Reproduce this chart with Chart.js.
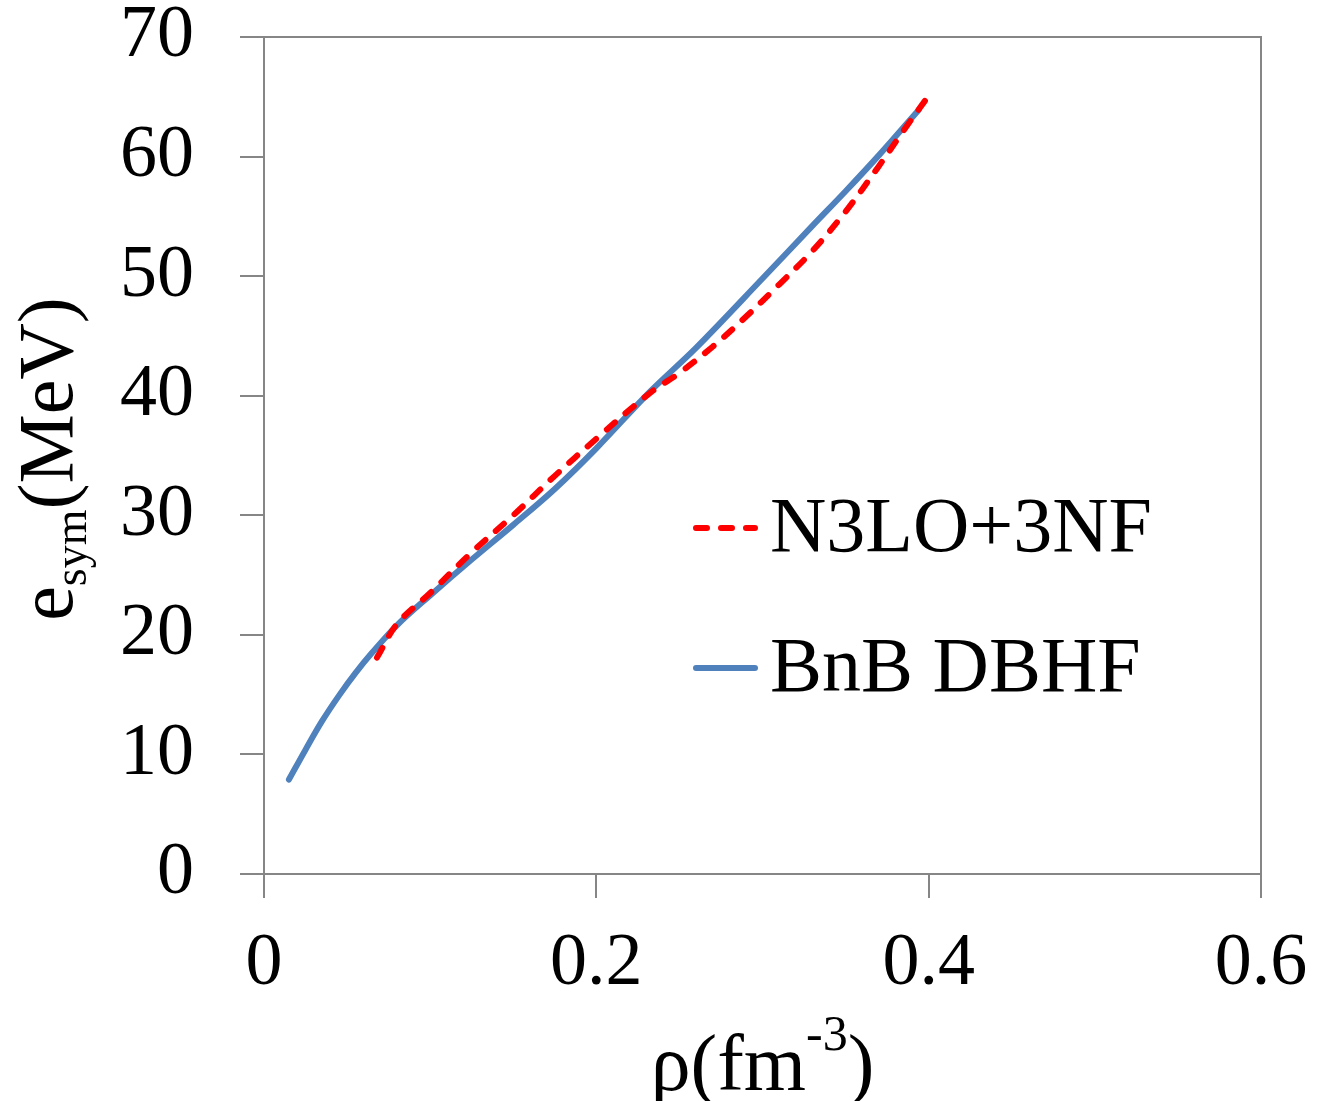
<html lang="en">
<head>
    <meta charset="UTF-8">
    <title>Symmetry energy</title>
    <script src="https://cdn.jsdelivr.net/npm/chart.js@4.4.0/dist/chart.umd.min.js"></script>
    <style>
        body { margin: 0; background: #fff; }
    </style>
</head>
<body>
    <canvas id="chart" width="1321" height="1101"></canvas>
    <script>
// values
const n3loRho = [0.068, 0.08, 0.1, 0.125, 0.15, 0.175, 0.2, 0.232, 0.25, 0.27, 0.29, 0.31, 0.33, 0.35, 0.37, 0.385, 0.399];
const n3loE   = [18.1, 20.9, 23.5, 26.9, 30.0, 33.3, 36.4, 40.2, 41.9, 44.1, 46.6, 49.3, 52.1, 55.4, 59.2, 62.2, 64.9];

const bnbRho = [0.015, 0.025, 0.035, 0.045, 0.055, 0.065, 0.08, 0.1, 0.125, 0.15, 0.175, 0.2, 0.232, 0.26, 0.3, 0.33, 0.35, 0.37, 0.394];
const bnbE   = [7.9, 10.4, 12.8, 14.9, 16.8, 18.5, 20.8, 23.3, 26.3, 29.2, 32.2, 35.6, 40.3, 44.0, 49.8, 54.2, 57.1, 60.1, 63.9];

const xTicks = [0, 0.2, 0.4, 0.6];
const yTicks = [0, 10, 20, 30, 40, 50, 60, 70];

const seriesNames = ['N3LO+3NF', 'BnB DBHF'];

const FONT = '"Liberation Serif", "Times New Roman", serif';
const AXIS = '#868686';

function pts(xs, ys) {
    return xs.map((x, i) => ({ x: x, y: ys[i] }));
}

// frame, axis titles (with sub/superscripts) and legend
const extras = {
    id: 'extras',
    afterDraw(chart) {
        const ctx = chart.ctx;
        const a = chart.chartArea;
        ctx.save();
        ctx.strokeStyle = AXIS;
        ctx.lineWidth = 2;
        ctx.beginPath();
        ctx.moveTo(a.left, a.top);
        ctx.lineTo(a.right, a.top);
        ctx.lineTo(a.right, a.bottom);
        ctx.stroke();

        ctx.fillStyle = '#000';
        ctx.textBaseline = 'alphabetic';

        // x title: ρ(fm-3)
        const big = '80px ' + FONT, small = '50px ' + FONT;
        ctx.font = big;
        const p1 = 'ρ(fm', p3 = ')';
        ctx.font = small;
        const w2 = ctx.measureText('-3').width;
        ctx.font = big;
        const w1 = ctx.measureText(p1).width, w3 = ctx.measureText(p3).width;
        let x = (a.left + a.right) / 2 - (w1 + w2 + w3) / 2;
        const by = 1090;
        ctx.fillText(p1, x, by);
        ctx.font = small;
        ctx.fillText('-3', x + w1, by - 40);
        ctx.font = big;
        ctx.fillText(p3, x + w1 + w2, by);

        // y title: e_sym(MeV)
        const yb = '78px ' + FONT, ys = '46px ' + FONT;
        ctx.save();
        ctx.translate(72, 459);
        ctx.rotate(-Math.PI / 2);
        ctx.font = yb;
        const we = ctx.measureText('e').width;
        const wm = ctx.measureText('(MeV)').width;
        ctx.font = ys;
        const ws = ctx.measureText('sym').width;
        let tx = -(we + ws + wm) / 2;
        ctx.font = yb;
        ctx.fillText('e', tx, 0);
        ctx.font = ys;
        ctx.fillText('sym', tx + we, 14);
        ctx.font = yb;
        ctx.fillText('(MeV)', tx + we + ws, 0);
        ctx.restore();

        // legend
        const rows = [528, 668];
        chart.data.datasets.forEach((ds, i) => {
            const y = rows[i];
            ctx.strokeStyle = ds.borderColor;
            ctx.lineWidth = ds.borderWidth;
            ctx.lineCap = ds.borderCapStyle || 'butt';
            ctx.setLineDash(ds.borderDash || []);
            ctx.beginPath();
            ctx.moveTo(696, y);
            ctx.lineTo(755, y);
            ctx.stroke();
            ctx.setLineDash([]);
            ctx.font = '78px ' + FONT;
            ctx.textBaseline = 'middle';
            ctx.fillStyle = '#000';
            ctx.fillText(ds.label, 770, y + 3);
        });
        ctx.restore();
    }
};

function noPad(s) {
    s.paddingLeft = 0; s.paddingRight = 0; s.paddingTop = 0; s.paddingBottom = 0;
}

const ctx = document.getElementById('chart').getContext('2d');
new Chart(ctx, {
    type: 'scatter',
    data: {
        datasets: [{
            label: seriesNames[0],
            data: pts(n3loRho, n3loE),
            showLine: true,
            borderColor: '#FF0000',
            borderWidth: 6,
            borderDash: [11, 14],
            borderCapStyle: 'round',
            tension: 0.35,
            pointRadius: 0
        }, {
            label: seriesNames[1],
            data: pts(bnbRho, bnbE),
            showLine: true,
            borderColor: '#4F81BD',
            borderWidth: 6,
            borderCapStyle: 'round',
            tension: 0.35,
            pointRadius: 0
        }]
    },
    options: {
        responsive: false,
        animation: false,
        layout: { padding: { top: 37, right: 60, left: 0, bottom: 0 } },
        plugins: { legend: { display: false }, tooltip: { enabled: false } },
        scales: {
            x: {
                type: 'linear', min: 0, max: 0.6,
                afterBuildTicks: s => { s.ticks = xTicks.map(v => ({ value: v })); },
                afterFit: s => { s.height = 227; noPad(s); },
                grid: { drawOnChartArea: false, color: AXIS, lineWidth: 2, tickLength: 24 },
                border: { color: AXIS, width: 2 },
                ticks: {
                    color: '#000', font: { family: FONT, size: 74 }, padding: 22,
                    maxRotation: 0,
                    callback: v => v === 0 ? '0' : String(v)
                }
            },
            y: {
                type: 'linear', min: 0, max: 70,
                afterBuildTicks: s => { s.ticks = yTicks.map(v => ({ value: v })); },
                afterFit: s => { s.width = 264; noPad(s); },
                grid: { drawOnChartArea: false, color: AXIS, lineWidth: 2, tickLength: 24 },
                border: { color: AXIS, width: 2 },
                ticks: {
                    color: '#000', font: { family: FONT, size: 74 }, padding: 46
                }
            }
        }
    },
    plugins: [extras]
});
    </script>
</body>
</html>
